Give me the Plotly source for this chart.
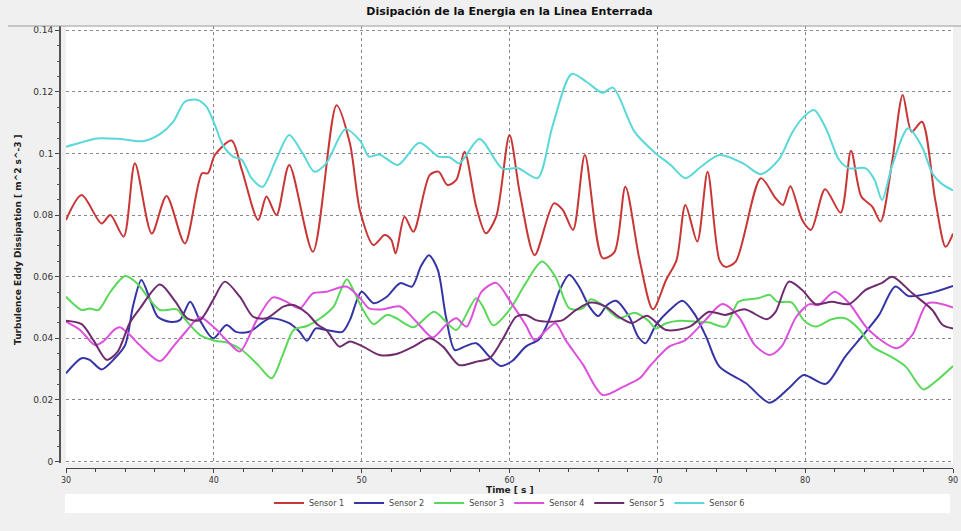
import plotly.graph_objects as go

# ---- data (time [s], dissipation [m^2 s^-3]) ----
t1 = [30.0, 31.06, 32.4, 33.0, 33.9, 34.66, 35.8, 36.8, 38.04, 39.2, 39.6, 40.07, 41.2, 41.9, 43.0, 43.56, 44.24, 45.1, 46.7, 48.3, 49.2, 49.9, 50.8, 51.55, 52.0, 52.3, 52.9, 53.5, 54.6, 55.2, 55.8, 56.4, 56.96, 57.75, 58.4, 59.1, 60.0, 60.7, 61.7, 63.0, 63.6, 64.3, 65.1, 66.3, 67.1, 67.84, 68.8, 69.7, 70.6, 71.3, 71.9, 72.7, 73.4, 74.2, 74.6, 75.3, 77.0, 78.0, 78.5, 79.0, 79.8, 80.4, 81.35, 82.4, 83.1, 83.8, 84.55, 85.1, 85.9, 86.6, 87.2, 87.9, 88.8, 89.5, 90.0]
v1 = [0.0784, 0.0865, 0.0773, 0.080, 0.073, 0.0968, 0.074, 0.0862, 0.0708, 0.0936, 0.0936, 0.0995, 0.1042, 0.0946, 0.0784, 0.086, 0.080, 0.0963, 0.0681, 0.1157, 0.1034, 0.0812, 0.0703, 0.0735, 0.072, 0.0676, 0.0795, 0.0746, 0.093, 0.0941, 0.0898, 0.0914, 0.1006, 0.0827, 0.0741, 0.0795, 0.106, 0.0871, 0.067, 0.0838, 0.0817, 0.0752, 0.0995, 0.066, 0.068, 0.0892, 0.0654, 0.0494, 0.059, 0.0654, 0.0833, 0.0714, 0.0941, 0.0654, 0.0632, 0.0649, 0.092, 0.0855, 0.0833, 0.0894, 0.0784, 0.0752, 0.0884, 0.0808, 0.1009, 0.086, 0.0827, 0.0779, 0.0979, 0.119, 0.1071, 0.1103, 0.0849, 0.0697, 0.074]

t2 = [30.0, 31.06, 31.6, 32.4, 33.3, 34.0, 34.55, 35.1, 35.7, 36.2, 37.0, 37.7, 38.4, 39.05, 39.95, 40.86, 41.5, 42.4, 43.8, 45.1, 45.8, 46.3, 46.9, 47.6, 48.7, 49.2, 50.0, 50.8, 51.7, 52.6, 53.4, 54.0, 54.55, 55.15, 55.7, 56.3, 56.96, 57.75, 58.65, 59.4, 60.2, 61.1, 62.0, 62.7, 63.4, 64.05, 64.7, 65.4, 66.0, 66.6, 67.2, 68.1, 68.7, 69.2, 69.9, 70.8, 71.7, 72.5, 73.3, 74.2, 76.0, 77.6, 79.0, 79.9, 81.4, 82.7, 84.1, 85.0, 86.1, 87.0, 88.4, 90.0]
v2 = [0.0286, 0.0335, 0.033, 0.0299, 0.0335, 0.0378, 0.0508, 0.0589, 0.0524, 0.047, 0.0454, 0.0459, 0.0519, 0.0459, 0.04, 0.0443, 0.0421, 0.0421, 0.0465, 0.0449, 0.0421, 0.0392, 0.0432, 0.0427, 0.0421, 0.0459, 0.0551, 0.0514, 0.0535, 0.0579, 0.0568, 0.0633, 0.067, 0.0622, 0.047, 0.0362, 0.0373, 0.0384, 0.034, 0.031, 0.0327, 0.0373, 0.0397, 0.0462, 0.0557, 0.0606, 0.0568, 0.0503, 0.0472, 0.0508, 0.0522, 0.047, 0.0405, 0.0384, 0.0443, 0.049, 0.0522, 0.048, 0.0405, 0.0308, 0.0254, 0.0191, 0.0243, 0.0281, 0.0252, 0.034, 0.0421, 0.0476, 0.0568, 0.0537, 0.0546, 0.057]

t3 = [30.0, 31.06, 31.6, 32.2, 33.0, 34.0, 34.8, 35.6, 36.35, 37.5, 38.0, 39.05, 40.07, 40.9, 41.9, 43.0, 43.9, 44.7, 45.4, 46.3, 47.2, 48.1, 48.5, 49.0, 49.5, 50.1, 50.8, 51.7, 52.35, 53.5, 54.9, 55.7, 56.4, 57.75, 58.2, 58.9, 60.0, 61.1, 62.2, 63.1, 64.05, 64.95, 65.5, 66.3, 67.4, 68.45, 69.35, 69.9, 70.6, 71.5, 72.6, 73.5, 74.6, 75.5, 76.85, 77.6, 78.1, 79.1, 79.9, 80.7, 81.8, 82.7, 83.6, 84.55, 85.7, 86.8, 88.0, 88.8, 90.0]
v3 = [0.0535, 0.0492, 0.0497, 0.0492, 0.0551, 0.0602, 0.0579, 0.053, 0.0492, 0.0494, 0.0465, 0.0411, 0.0392, 0.0386, 0.0362, 0.0313, 0.027, 0.0351, 0.0427, 0.044, 0.0465, 0.0503, 0.0546, 0.0592, 0.055, 0.0492, 0.0446, 0.0476, 0.0465, 0.0436, 0.0486, 0.0454, 0.0427, 0.053, 0.0503, 0.0442, 0.0492, 0.0579, 0.0649, 0.06, 0.0497, 0.0497, 0.0527, 0.0508, 0.0465, 0.0483, 0.0459, 0.0432, 0.0449, 0.0457, 0.0454, 0.0451, 0.0438, 0.0519, 0.053, 0.0541, 0.0519, 0.0516, 0.0459, 0.0438, 0.0462, 0.0465, 0.0432, 0.0373, 0.0343, 0.0308, 0.0234, 0.0259, 0.031]

t4 = [30.0, 30.95, 31.96, 32.5, 33.3, 33.65, 34.2, 35.2, 36.35, 37.25, 38.2, 39.05, 39.95, 40.86, 41.76, 42.9, 44.0, 44.9, 45.8, 46.7, 47.6, 48.96, 49.9, 50.5, 51.4, 52.6, 53.7, 54.8, 55.7, 56.4, 57.1, 58.1, 59.1, 60.1, 61.1, 61.7, 62.5, 63.1, 63.8, 64.95, 66.3, 67.7, 68.8, 69.5, 70.8, 71.9, 73.25, 74.4, 75.5, 76.6, 77.6, 78.4, 79.4, 80.3, 80.9, 82.0, 82.97, 84.3, 86.2, 87.25, 88.3, 90.0]
v4 = [0.0454, 0.0427, 0.0378, 0.0389, 0.0429, 0.0436, 0.0416, 0.0368, 0.0326, 0.0373, 0.0427, 0.0468, 0.0438, 0.0394, 0.0357, 0.0459, 0.0533, 0.0519, 0.0497, 0.0546, 0.0551, 0.0568, 0.053, 0.0497, 0.0494, 0.0503, 0.0454, 0.0403, 0.0443, 0.0465, 0.0438, 0.0551, 0.058, 0.0516, 0.0443, 0.0394, 0.0427, 0.0449, 0.0394, 0.0316, 0.0216, 0.0243, 0.027, 0.031, 0.0373, 0.0394, 0.0459, 0.0511, 0.047, 0.0378, 0.0346, 0.0373, 0.047, 0.0511, 0.0508, 0.0551, 0.0514, 0.0427, 0.0368, 0.0411, 0.0514, 0.05]

t5 = [30.0, 31.06, 31.85, 32.75, 33.5, 34.3, 35.0, 36.35, 37.4, 38.2, 39.05, 39.95, 40.74, 41.76, 42.66, 43.56, 44.7, 45.4, 46.3, 47.05, 47.6, 48.5, 49.2, 50.1, 51.2, 52.35, 53.5, 54.6, 55.5, 56.6, 57.75, 58.65, 59.5, 60.45, 61.1, 61.8, 62.7, 63.6, 64.5, 65.5, 66.5, 67.4, 68.3, 69.3, 70.6, 72.2, 73.5, 74.6, 75.9, 77.4, 78.0, 78.9, 79.8, 80.7, 81.8, 82.97, 84.1, 85.2, 85.9, 87.25, 88.6, 89.3, 90.0]
v5 = [0.0457, 0.0446, 0.0394, 0.033, 0.0357, 0.0449, 0.0497, 0.0575, 0.0519, 0.0465, 0.0459, 0.0524, 0.0584, 0.0535, 0.047, 0.0465, 0.0503, 0.0508, 0.0481, 0.0443, 0.0427, 0.0373, 0.039, 0.0373, 0.0346, 0.0349, 0.0373, 0.04, 0.0373, 0.0313, 0.0324, 0.0335, 0.0394, 0.047, 0.0476, 0.0459, 0.0454, 0.0459, 0.0492, 0.0516, 0.0503, 0.047, 0.045, 0.0473, 0.0427, 0.0438, 0.0486, 0.0476, 0.0494, 0.0462, 0.0486, 0.0584, 0.0557, 0.0511, 0.0519, 0.0511, 0.0557, 0.058, 0.06, 0.0546, 0.0492, 0.0443, 0.0432]

t6 = [30.0, 30.95, 32.1, 33.65, 35.2, 36.35, 37.25, 38.04, 38.9, 39.5, 40.07, 40.6, 41.3, 41.9, 42.55, 43.3, 44.2, 45.1, 46.0, 46.8, 47.6, 48.9, 49.9, 50.5, 51.2, 52.45, 53.9, 55.2, 55.95, 56.6, 57.97, 59.5, 60.6, 61.9, 62.9, 64.2, 65.2, 66.3, 67.0, 68.45, 69.9, 70.9, 71.9, 72.95, 74.2, 75.8, 77.0, 78.2, 79.1, 79.8, 80.6, 81.4, 82.3, 82.97, 84.1, 84.7, 85.2, 85.9, 86.97, 87.9, 88.6, 89.2, 90.0]
v6 = [0.1022, 0.1035, 0.1049, 0.1047, 0.104, 0.1063, 0.1103, 0.1168, 0.1174, 0.1152, 0.1093, 0.1028, 0.099, 0.0979, 0.092, 0.0892, 0.0979, 0.106, 0.1001, 0.0941, 0.0968, 0.1079, 0.1041, 0.099, 0.0997, 0.0963, 0.1035, 0.099, 0.0988, 0.0968, 0.1047, 0.0952, 0.0952, 0.092, 0.1087, 0.1258, 0.1233, 0.1197, 0.1214, 0.1071, 0.1, 0.0963, 0.092, 0.0957, 0.0995, 0.0968, 0.0933, 0.0979, 0.1066, 0.1114, 0.1141, 0.1082, 0.0979, 0.0952, 0.0952, 0.0914, 0.0849, 0.0963, 0.1082, 0.1022, 0.0936, 0.0903, 0.088]

names = ["Sensor 1", "Sensor 2", "Sensor 3", "Sensor 4", "Sensor 5", "Sensor 6"]
x_ticks = [30, 40, 50, 60, 70, 80, 90]
y_ticks = [0, 0.02, 0.04, 0.06, 0.08, 0.1, 0.12, 0.14]
y_tick_text = ["0", "0.02", "0.04", "0.06", "0.08", "0.1", "0.12", "0.14"]

title = "Disipación de la Energia en la Linea Enterrada"
x_title = "Time [ s ]"
y_title = "Turbulence Eddy Dissipation [ m^2 s^-3 ]"

colors = ["#c83636", "#3434a6", "#5ad85a", "#dc50dc", "#6e2c6e", "#5ad8d8"]

series = [(t1, v1), (t2, v2), (t3, v3), (t4, v4), (t5, v5), (t6, v6)]

W, H = 961, 531
L, R, T, B = 60, 954, 26, 468  # full plot area in px
pw, ph = R - L, B - T

fig = go.Figure()
for (tt, vv), nm, c in zip(series, names, colors):
    fig.add_trace(go.Scatter(x=tt, y=vv, name=nm, mode="lines",
                             line=dict(color=c, width=2, shape="spline", smoothing=0.8)))

FONT = "DejaVu Sans"
fig.update_layout(
    width=W, height=H,
    margin=dict(l=L, r=W - R, t=T, b=H - B, pad=0, autoexpand=False),
    paper_bgcolor="#f0f0f0",
    plot_bgcolor="#ffffff",
    font=dict(family=FONT, size=9, color="#333"),
    title=dict(text="<b>" + title + "</b>", x=509.5 / W, xanchor="center",
               y=1 - 11.5 / H, yanchor="middle",
               font=dict(family=FONT, size=11, color="#111")),
    showlegend=True,
    legend=dict(orientation="h", x=(509.5 - L) / pw, xanchor="center",
                y=(B - 503) / ph, yanchor="middle",
                bgcolor="rgba(0,0,0,0)", font=dict(family=FONT, size=8, color="#444"),
                itemwidth=30, tracegroupgap=0),
    xaxis=dict(range=[30, 90], domain=[(66 - L) / pw, (953 - L) / pw],
               anchor="free", position=0, automargin=False,
               tickvals=x_ticks, ticktext=[str(v) for v in x_ticks],
               showgrid=True, gridcolor="#8a8a8a", griddash="dot", gridwidth=1,
               zeroline=False, showline=True, linecolor="#444", linewidth=1,
               ticks="outside", ticklen=4, tickcolor="#444",
               minor=dict(dtick=2, ticklen=3, tickcolor="#444", showgrid=False),
               tickfont=dict(size=8, color="#333")),
    yaxis=dict(range=[-1.5 / 3080, (461.5 - 26) / 3080], domain=[(B - 463) / ph, 1],
               anchor="free", position=0, automargin=False,
               tickvals=y_ticks, ticktext=y_tick_text,
               showgrid=True, gridcolor="#8a8a8a", griddash="dot", gridwidth=1,
               zeroline=False, showline=True, linecolor="#555", linewidth=2,
               ticks="outside", ticklen=4, tickcolor="#444",
               minor=dict(dtick=0.005, ticklen=2, tickcolor="#555", showgrid=False),
               tickfont=dict(size=9, color="#333")),
    shapes=[
        # title bar bottom border
        dict(type="line", xref="paper", yref="paper", x0=(8 - L) / pw, x1=(W - L) / pw,
             y0=1, y1=1, line=dict(color="#9a9a9a", width=1)),
        # legend white box
        dict(type="rect", xref="paper", yref="paper", x0=(65 - L) / pw, x1=(950 - L) / pw,
             y0=(B - 513) / ph, y1=(B - 494) / ph, fillcolor="#ffffff",
             line=dict(width=0), layer="below"),
    ],
    annotations=[
        dict(text="<b>" + x_title + "</b>", xref="paper", yref="paper",
             x=(509.5 - L) / pw, y=(B - 489.5) / ph, xanchor="center", yanchor="middle",
             showarrow=False, font=dict(family=FONT, size=9, color="#222")),
        dict(text="<b>" + y_title + "</b>", xref="paper", yref="paper",
             x=(18 - L) / pw, y=(B - 240) / ph, xanchor="center", yanchor="middle",
             textangle=-90, showarrow=False, font=dict(family=FONT, size=9, color="#222")),
    ],
)

fig.write_html("out.html", config={"displayModeBar": False},
               post_script="document.body.style.margin='0';document.body.style.overflow='hidden';")
